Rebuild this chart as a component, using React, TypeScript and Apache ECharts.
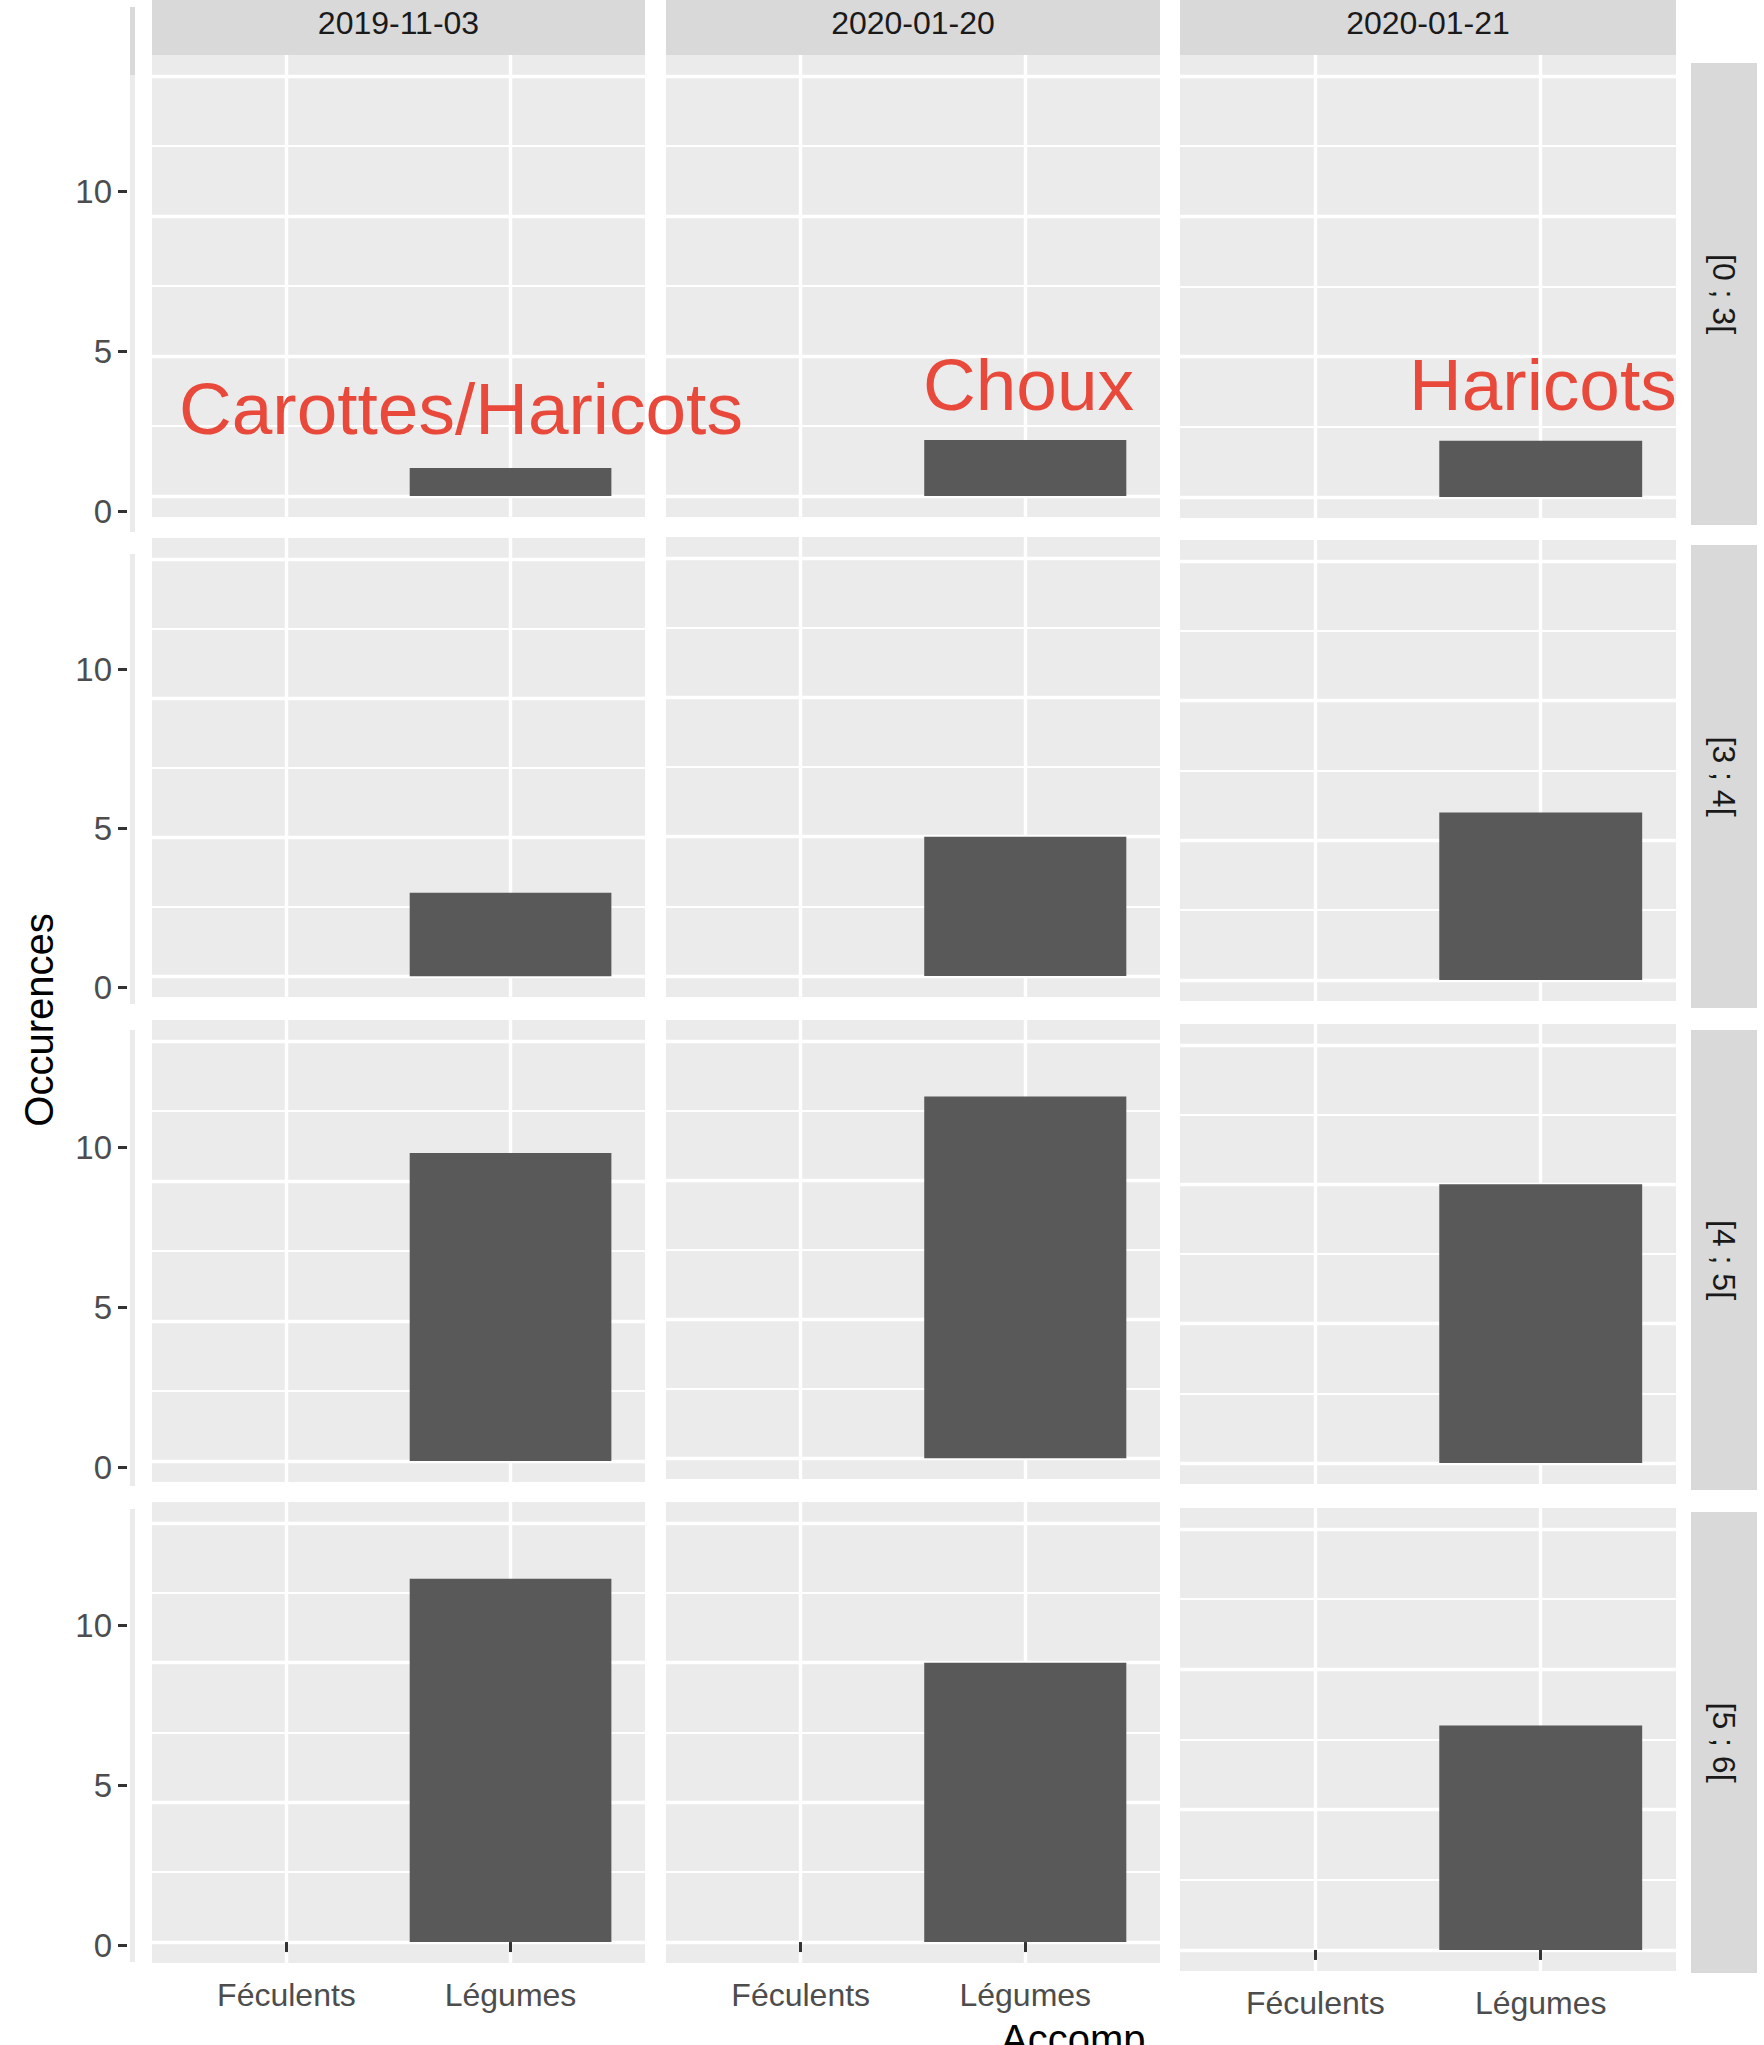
import React, { useEffect, useRef } from "react";
import * as echarts from "echarts";

// ---- data ----
const categories = ["Féculents", "Légumes"];
const dates = ["2019-11-03", "2020-01-20", "2020-01-21"];
const ageGroups = ["[0 ; 3[", "[3 ; 4[", "[4 ; 5[", "[5 ; 6["];
const feculentsCounts = [
  [0, 0, 0],
  [0, 0, 0],
  [0, 0, 0],
  [0, 0, 0],
];
const legumesCounts = [
  [1, 2, 2],
  [3, 5, 6],
  [11, 13, 10],
  [13, 10, 8],
];
const yTickLabels = [0, 5, 10];
const yMajorBreaks = [0, 5, 10, 15];
const yMinorBreaks = [2.5, 7.5, 12.5];
const annotations = ["Carottes/Haricots", "Choux", "Haricots"];
const yAxisTitle = "Occurences";
const xAxisTitleVisible = "Accomp";

// ---- layout ----
const FONT = "Liberation Sans, Arial, sans-serif";
const colLeft = [152, 666, 1180];
const colWidth = [493, 494, 496];
const cellTop = [
  [55, 55, 55],
  [538, 537, 540],
  [1020, 1020, 1024],
  [1502, 1502, 1508],
];
const cellHeight = [
  [462, 462, 463],
  [459, 460, 461],
  [462, 459, 460],
  [461, 461, 463],
];
const labelAxisTop = [191, 669, 1147, 1625];
const labelAxisHeight = [320, 318, 320, 320];
const rightStripTop = [63, 545, 1030, 1512];
const rightStripHeight = [462, 463, 460, 461];
const sliver = [
  [7, 532],
  [554, 1004],
  [1030, 1486],
  [1509, 1962],
];
const annotationPos = [
  [179, 408],
  [923, 384],
  [1409, 384],
];

export default function App() {
  const ref = useRef<HTMLDivElement>(null);

  useEffect(() => {
    document.body.style.margin = "0";
    const chart = echarts.init(ref.current!, null, { renderer: "svg" });

    const grid: any[] = [];
    const xAxis: any[] = [];
    const yAxis: any[] = [];
    const series: any[] = [];

    for (let r = 0; r < ageGroups.length; r++) {
      for (let c = 0; c < dates.length; c++) {
        const gi = grid.length;
        grid.push({
          left: colLeft[c],
          top: cellTop[r][c],
          width: colWidth[c],
          height: cellHeight[r][c],
          show: true,
          backgroundColor: "#EBEBEB",
          borderWidth: 0,
          containLabel: false,
        });
        const bottom = r === ageGroups.length - 1;
        xAxis.push({
          gridIndex: gi,
          type: "value",
          min: 0.4,
          max: 2.6,
          axisLine: { show: false },
          axisTick: {
            show: bottom,
            customValues: [1, 2],
            length: 10,
            lineStyle: { color: "#333333", width: 3 },
          },
          axisLabel: {
            show: bottom,
            customValues: [1, 2],
            formatter: (v: number) => categories[Math.round(v) - 1] ?? "",
            color: "#4D4D4D",
            fontSize: 32,
            margin: 16,
            fontFamily: FONT,
          },
          splitLine: { show: true, lineStyle: { color: "#FFFFFF", width: 3.4 } },
        });
        const yi = yAxis.length;
        yAxis.push({
          gridIndex: gi,
          type: "value",
          min: -0.75,
          max: 15.75,
          axisLine: { show: false },
          axisTick: { show: false, customValues: yMajorBreaks },
          axisLabel: { show: false, customValues: yMajorBreaks },
          splitLine: { show: true, lineStyle: { color: "#FFFFFF", width: 3.4 } },
        });
        yAxis.push({
          gridIndex: gi,
          type: "value",
          min: -0.75,
          max: 15.75,
          axisLine: { show: false },
          axisTick: { show: false, customValues: yMinorBreaks },
          axisLabel: { show: false, customValues: yMinorBreaks },
          splitLine: { show: true, lineStyle: { color: "#FFFFFF", width: 1.8 } },
        });
        series.push({
          type: "bar",
          name: `${dates[c]} ${ageGroups[r]}`,
          xAxisIndex: gi,
          yAxisIndex: yi,
          barWidth: (0.9 * colWidth[c]) / 2.2,
          itemStyle: { color: "#595959" },
          z: 3,
          data: categories.map((_, k) => [
            k + 1,
            k === 0 ? feculentsCounts[r][c] : legumesCounts[r][c],
          ]),
        });
      }
    }

    // left tick-label axes, one per row
    for (let r = 0; r < ageGroups.length; r++) {
      const gi = grid.length;
      grid.push({
        left: 127,
        top: labelAxisTop[r],
        width: 1,
        height: labelAxisHeight[r],
        show: false,
        containLabel: false,
      });
      xAxis.push({ gridIndex: gi, type: "value", show: false });
      yAxis.push({
        gridIndex: gi,
        type: "value",
        min: yTickLabels[0],
        max: yTickLabels[yTickLabels.length - 1],
        interval: 5,
        axisLine: { show: false },
        axisTick: { show: true, length: 9, lineStyle: { color: "#333333", width: 3 } },
        axisLabel: { color: "#4D4D4D", fontSize: 33, margin: 15, fontFamily: FONT },
        splitLine: { show: false },
      });
    }

    const graphic: any[] = [];
    // top strips
    dates.forEach((d, c) => {
      graphic.push({
        type: "rect",
        shape: { x: colLeft[c], y: 0, width: colWidth[c], height: 55 },
        style: { fill: "#D9D9D9" },
        z: 1,
      });
      graphic.push({
        type: "text",
        x: colLeft[c] + colWidth[c] / 2,
        y: 23,
        style: {
          text: d,
          fontSize: 32,
          fill: "#1A1A1A",
          align: "center",
          verticalAlign: "middle",
          fontFamily: FONT,
        },
        z: 2,
      });
    });
    // right strips
    ageGroups.forEach((g, r) => {
      graphic.push({
        type: "rect",
        shape: { x: 1691, y: rightStripTop[r], width: 66, height: rightStripHeight[r] },
        style: { fill: "#D9D9D9" },
        z: 1,
      });
      graphic.push({
        type: "text",
        x: 1724,
        y: rightStripTop[r] + rightStripHeight[r] / 2,
        rotation: -Math.PI / 2,
        style: {
          text: g,
          fontSize: 32,
          fill: "#1A1A1A",
          align: "center",
          verticalAlign: "middle",
          fontFamily: FONT,
        },
        z: 2,
      });
      graphic.push({
        type: "rect",
        shape: { x: 130, y: sliver[r][0], width: 5, height: sliver[r][1] - sliver[r][0] },
        style: { fill: "#EBEBEB" },
        z: 1,
      });
    });
    graphic.push({
      type: "rect",
      shape: { x: 130, y: 7, width: 5, height: 68 },
      style: { fill: "#D9D9D9" },
      z: 1,
    });
    // red annotations
    annotations.forEach((t, i) => {
      graphic.push({
        type: "text",
        x: annotationPos[i][0],
        y: annotationPos[i][1],
        style: {
          text: t,
          fontSize: 73,
          fill: "#E8493B",
          align: "left",
          verticalAlign: "middle",
          fontFamily: FONT,
        },
        z: 100,
      });
    });
    // y axis title
    graphic.push({
      type: "text",
      x: 39,
      y: 1020,
      rotation: Math.PI / 2,
      style: {
        text: yAxisTitle,
        fontSize: 40,
        fill: "#000000",
        align: "center",
        verticalAlign: "middle",
        fontFamily: FONT,
      },
      z: 2,
    });
    // clipped x axis title fragment
    graphic.push({
      type: "text",
      x: 1001,
      y: 2019,
      style: {
        text: xAxisTitleVisible,
        fontSize: 40,
        fill: "#000000",
        align: "left",
        verticalAlign: "top",
        fontFamily: FONT,
      },
      z: 2,
    });

    chart.setOption({
      animation: false,
      backgroundColor: "#FFFFFF",
      grid,
      xAxis,
      yAxis,
      series,
      graphic,
    });

    return () => chart.dispose();
  }, []);

  return <div ref={ref} style={{ width: 1764, height: 2045 }} />;
}
